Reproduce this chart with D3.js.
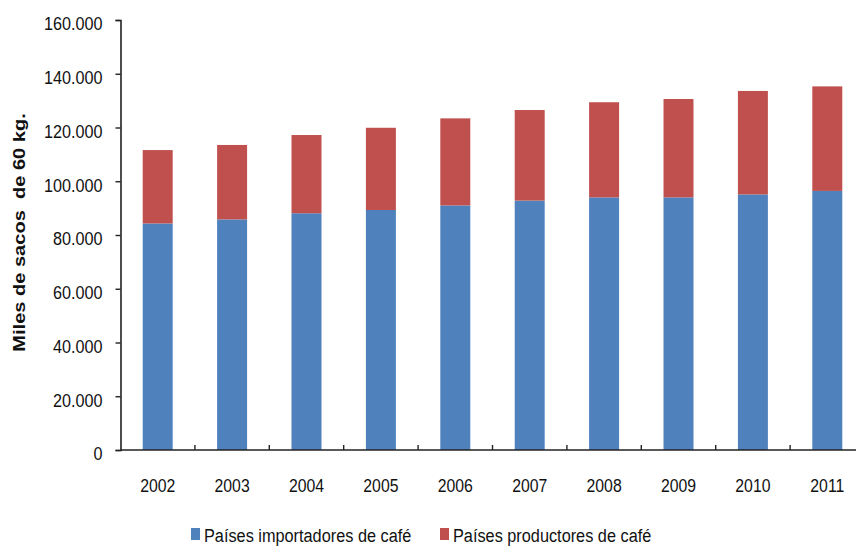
<!DOCTYPE html>
<html lang="es">
<head>
    <meta charset="UTF-8">
    <title>Consumo mundial de café</title>
    <script src="https://d3js.org/d3.v7.min.js"></script>
    <style>
        body {
            margin: 0;
            background: #ffffff;
            font-family: "Liberation Sans", Arial, sans-serif;
            overflow: hidden;
        }
        .axis text {
            fill: #111;
        }
        .axis path, .axis line {
            stroke: #222;
        }
    </style>
</head>
<body>
<script>
    // miles de sacos de 60 kg
    const years = ["2002", "2003", "2004", "2005", "2006", "2007", "2008", "2009", "2010", "2011"];
    const importadores = [84300, 85800, 88100, 89300, 91000, 92800, 94000, 94000, 95100, 96400];
    const productores = [27300, 27700, 29100, 30600, 32400, 33700, 35400, 36600, 38500, 38900];
    const yTicks = [0, 20000, 40000, 60000, 80000, 100000, 120000, 140000, 160000];
    const seriesNames = ["Países importadores de café", "Países productores de café"];
    const colors = ["#4F81BD", "#C0504D"];

    const width = 856, height = 546;
    const x0 = 120.5, y0 = 450, yTop = 20;
    const stretch = 1.18; // el texto original aparece estirado en vertical

    const svg = d3.select("body").append("svg")
        .attr("width", width)
        .attr("height", height);

    const x = d3.scaleBand()
        .domain(years)
        .range([x0, x0 + 744])
        .paddingInner(0.597)
        .paddingOuter(0.2985);

    const y = d3.scaleLinear()
        .domain([0, 160000])
        .range([y0, yTop]);

    const locale = d3.formatLocale({decimal: ",", thousands: ".", grouping: [3], currency: ["", ""]});
    const fmt = locale.format(",");

    const rows = years.map((yr, i) => ({year: yr, imp: importadores[i], prod: productores[i]}));
    const stacked = d3.stack().keys(["imp", "prod"])(rows);

    svg.append("g")
        .selectAll("g")
        .data(stacked)
        .enter().append("g")
        .attr("fill", (d, i) => colors[i])
        .selectAll("rect")
        .data(d => d)
        .enter().append("rect")
        .attr("x", d => x(d.data.year))
        .attr("width", x.bandwidth())
        .attr("y", d => y(d[1]))
        .attr("height", d => y(d[0]) - y(d[1]));

    // eje y
    const yAxis = svg.append("g")
        .attr("class", "axis")
        .attr("transform", `translate(${x0},0)`)
        .call(d3.axisLeft(y).tickValues(yTicks).tickFormat(fmt).tickSize(5).tickSizeOuter(5).tickPadding(13));
    yAxis.select(".domain").attr("stroke-width", 1.6);
    yAxis.selectAll("line").attr("stroke-width", 1.4);
    yAxis.selectAll("text")
        .attr("dy", "0.52em")
        .attr("transform", `scale(1,${stretch})`)
        .style("font-size", "16.2px")
        .attr("font-family", null);

    // eje x con marcas entre categorías
    const xAxis = svg.append("g")
        .attr("class", "axis")
        .attr("transform", `translate(0,${y0})`);
    xAxis.append("line")
        .attr("x1", x0)
        .attr("x2", width)
        .attr("stroke-width", 1.6);
    xAxis.selectAll(".tk")
        .data(years.slice(1))
        .enter().append("line")
        .attr("class", "tk")
        .attr("x1", d => x(d) - x.step() * x.paddingInner() / 2)
        .attr("x2", d => x(d) - x.step() * x.paddingInner() / 2)
        .attr("y1", 0)
        .attr("y2", -5)
        .attr("stroke-width", 1.4);
    xAxis.selectAll(".lbl")
        .data(years)
        .enter().append("text")
        .attr("class", "lbl")
        .attr("transform", d => `translate(${x(d) + x.bandwidth() / 2},42) scale(1,${stretch})`)
        .attr("text-anchor", "middle")
        .style("font-size", "15.8px")
        .text(d => d);

    // título eje y
    svg.append("text")
        .attr("transform", `translate(24.5,232.5) rotate(-90) scale(${stretch},1)`)
        .attr("text-anchor", "middle")
        .style("font-size", "17px")
        .style("font-weight", "bold")
        .style("fill", "#111")
        .style("white-space", "pre")
        .text("Miles de sacos  de 60 kg.");

    // leyenda
    const legendX = [191, 440];
    const legend = svg.append("g")
        .selectAll("g")
        .data(seriesNames)
        .enter().append("g")
        .attr("transform", (d, i) => `translate(${legendX[i]},528)`);
    legend.append("rect")
        .attr("width", 9)
        .attr("height", 12)
        .attr("fill", (d, i) => colors[i]);
    legend.append("text")
        .attr("transform", `translate(13,13.5) scale(1,${stretch})`)
        .style("font-size", "16.3px")
        .style("fill", "#111")
        .text(d => d);
</script>
</body>
</html>
